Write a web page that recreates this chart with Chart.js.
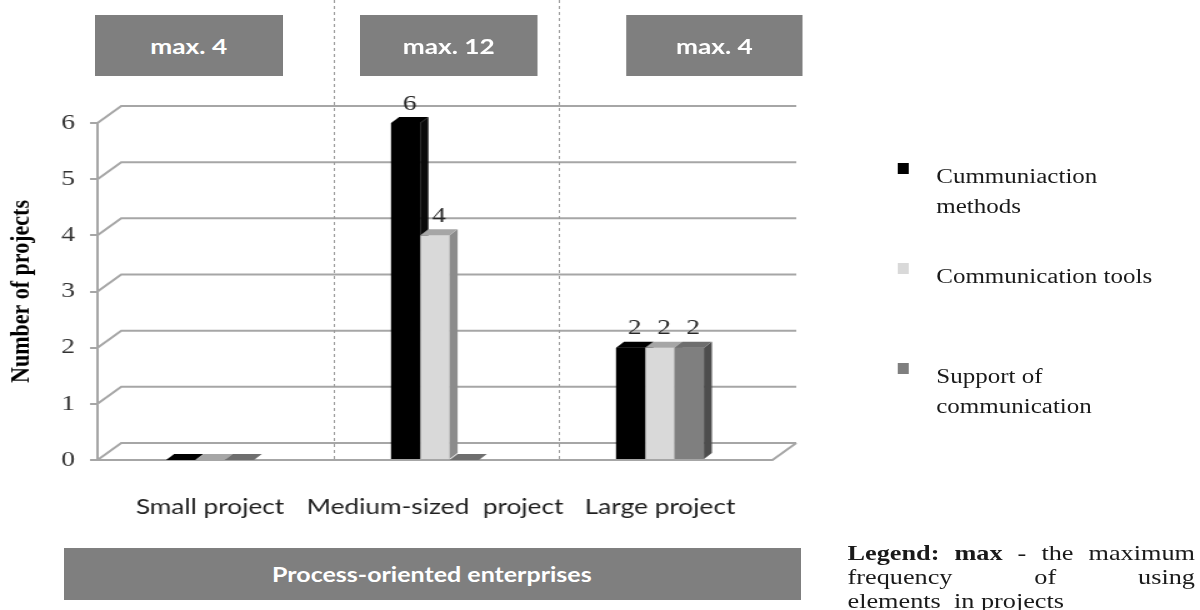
<!DOCTYPE html>
<html>
<head>
<meta charset="utf-8">
<script src="https://cdn.jsdelivr.net/npm/chart.js@4.4.1/dist/chart.umd.min.js"></script>
<style>
  html, body { margin: 0; padding: 0; background: #fff; overflow: hidden; }
  /* the source picture is stretched sideways, so the whole stage is too */
  #stage { position: absolute; left: 0; top: 0; width: 960px; height: 610px; transform: scaleX(1.25); transform-origin: 0 0; }
  #myChart { position: absolute; left: 0; top: 0; }
  .box { position: absolute; background: #7f7f7f; color: #fff; font: bold 21px Lato, sans-serif;
         display: flex; align-items: center; justify-content: center; }
  .item { position: absolute; left: 718px; width: 240px; }
  .item .mark { position: absolute; left: 0; top: 0; width: 9px; height: 11px; }
  .item .txt { position: absolute; left: 31px; top: -2px; width: 185px; font: 20px 'Liberation Serif', serif;
               color: #1a1a1a; line-height: 30px; }
  #note { position: absolute; left: 678px; top: 541px; width: 278px; font: 21px 'Liberation Serif', serif;
          color: #1a1a1a; line-height: 24px; }
  #note div { text-align: justify; text-align-last: justify; }
  #note div.last { text-align-last: left; }
</style>
</head>
<body>
<div id="stage">
  <canvas id="myChart" width="960" height="610"></canvas>
</div>
<script>
const categories = ['Small project', 'Medium-sized  project', 'Large project'];
const seriesNames = ['Cummuniaction methods', 'Communication tools', 'Support of communication'];
const methods = [0, 6, 2];
const tools = [0, 4, 2];
const support = [0, 0, 2];
const maxLabels = ['max. 4', 'max. 12', 'max. 4'];
const groupLabel = 'Process-oriented enterprises';
const yMin = 0, yMax = 6, yStep = 1;

// colours of the three faces of each bar
const frontColors = ['#000000', '#d9d9d9', '#7f7f7f'];
const sideColors = ['#0a0a0a', '#8c8c8c', '#4d4d4d'];
const topColors = ['#000000', '#a6a6a6', '#6e6e6e'];

const DEPTH_X = 19, DEPTH_Y = -17;   // depth of the walls
const BAR_DX = 6.4, BAR_DY = -6;     // depth of a bar

function poly(ctx, pts, color) {
    ctx.fillStyle = color;
    ctx.beginPath();
    ctx.moveTo(pts[0][0], pts[0][1]);
    for (let i = 1; i < pts.length; i++) ctx.lineTo(pts[i][0], pts[i][1]);
    ctx.closePath();
    ctx.fill();
}

const frame3d = {
    id: 'frame3d',
    beforeDatasetsDraw(chart) {
        const { ctx, chartArea: a, scales: { x, y } } = chart;
        ctx.save();
        ctx.strokeStyle = '#a6a6a6';
        ctx.lineWidth = 2;
        y.ticks.forEach(t => {
            const py = y.getPixelForValue(t.value);
            ctx.beginPath();
            ctx.moveTo(a.left, py);
            ctx.lineTo(a.left + DEPTH_X, py + DEPTH_Y);
            ctx.lineTo(a.right + DEPTH_X, py + DEPTH_Y);
            ctx.stroke();
        });
        ctx.beginPath();
        ctx.moveTo(a.left, a.bottom);
        ctx.lineTo(a.right, a.bottom);
        ctx.lineTo(a.right + DEPTH_X, a.bottom + DEPTH_Y);
        ctx.stroke();

        // dashed lines between the groups
        ctx.lineWidth = 1;
        ctx.strokeStyle = '#9a9a9a';
        ctx.setLineDash([3, 3]);
        for (let i = 0; i < categories.length - 1; i++) {
            const px = (x.getPixelForValue(i) + x.getPixelForValue(i + 1)) / 2 + DEPTH_X / 2;
            ctx.beginPath();
            ctx.moveTo(px, 0);
            ctx.lineTo(px, a.bottom);
            ctx.stroke();
        }
        ctx.restore();
    },
    afterDatasetsDraw(chart) {
        const ctx = chart.ctx;
        ctx.save();
        const labels = [];
        chart.data.datasets.forEach((ds, di) => {
            const meta = chart.getDatasetMeta(di);
            meta.data.forEach((bar, i) => {
                const p = bar.getProps(['x', 'y', 'base', 'width'], true);
                const l = p.x - p.width / 2, r = p.x + p.width / 2;
                ctx.fillStyle = frontColors[di];
                ctx.fillRect(l, p.y, p.width, p.base - p.y);
                poly(ctx, [[r, p.y], [r + BAR_DX, p.y + BAR_DY], [r + BAR_DX, p.base + BAR_DY], [r, p.base]], sideColors[di]);
                poly(ctx, [[l, p.y], [l + BAR_DX, p.y + BAR_DY], [r + BAR_DX, p.y + BAR_DY], [r, p.y]], topColors[di]);
                if (ds.data[i] > 0) labels.push([String(ds.data[i]), p.x + BAR_DX / 2, p.y + BAR_DY - 2]);
            });
        });
        ctx.fillStyle = '#262626';
        ctx.font = '22px "Liberation Serif"';
        ctx.textAlign = 'center';
        ctx.textBaseline = 'bottom';
        labels.forEach(t => ctx.fillText(t[0], t[1], t[2]));
        ctx.restore();
    }
};

const data = {
    labels: categories,
    datasets: [methods, tools, support].map((vals, i) => ({
        label: seriesNames[i],
        data: vals,
        backgroundColor: frontColors[i],
        barPercentage: 1,
        categoryPercentage: 0.39
    }))
};

const config = {
    type: 'bar',
    data: data,
    plugins: [frame3d],
    options: {
        responsive: false,
        animation: false,
        layout: { padding: { top: 123, right: 342, left: 0, bottom: 0 } },
        plugins: { legend: { display: false }, tooltip: { enabled: false } },
        scales: {
            x: {
                afterFit(s) { s.height = 150; s.paddingLeft = 0; s.paddingRight = 0; },
                grid: { display: false, drawTicks: false },
                border: { display: false },
                ticks: {
                    padding: 35, autoSkip: false, maxRotation: 0, minRotation: 0,
                    color: '#1f1f1f', font: { size: 21, family: 'Lato' }
                }
            },
            y: {
                min: yMin,
                max: yMax,
                afterFit(s) { s.width = 78; },
                ticks: { stepSize: yStep, padding: 12, color: '#333333', font: { size: 22, family: 'Liberation Serif' } },
                grid: { drawOnChartArea: false, tickLength: 6, color: '#a6a6a6', lineWidth: 2 },
                border: { color: '#a6a6a6', width: 2 },
                title: {
                    display: true,
                    text: 'Number of projects',
                    color: '#000',
                    font: { size: 22, weight: 'bold', family: 'Liberation Serif' }
                }
            }
        }
    }
};

new Chart(document.getElementById('myChart'), config);

// boxes above the groups and the group box below
const stage = document.getElementById('stage');
const boxLeft = [76, 288, 501], boxWidth = [150, 142, 141];
maxLabels.forEach((t, i) => {
    const b = document.createElement('div');
    b.className = 'box';
    b.style.cssText = `left:${boxLeft[i]}px;top:15px;width:${boxWidth[i]}px;height:61px;`;
    b.textContent = t;
    stage.appendChild(b);
});
const g = document.createElement('div');
g.className = 'box';
g.style.cssText = 'left:51px;top:548px;width:589px;height:52px;font-size:20px;';
g.textContent = groupLabel;
stage.appendChild(g);

// series legend
seriesNames.forEach((name, i) => {
    const it = document.createElement('div');
    it.className = 'item';
    it.style.top = (163 + i * 100) + 'px';
    it.innerHTML = `<div class="mark" style="background:${frontColors[i]}"></div><div class="txt"></div>`;
    it.querySelector('.txt').textContent = name;
    stage.appendChild(it);
});

// note under the legend
const note = document.createElement('div');
note.id = 'note';
note.innerHTML = '<div><b>Legend: max</b> - the maximum</div><div>frequency of using</div><div class="last">elements&nbsp; in projects</div>';
stage.appendChild(note);
</script>
</body>
</html>
